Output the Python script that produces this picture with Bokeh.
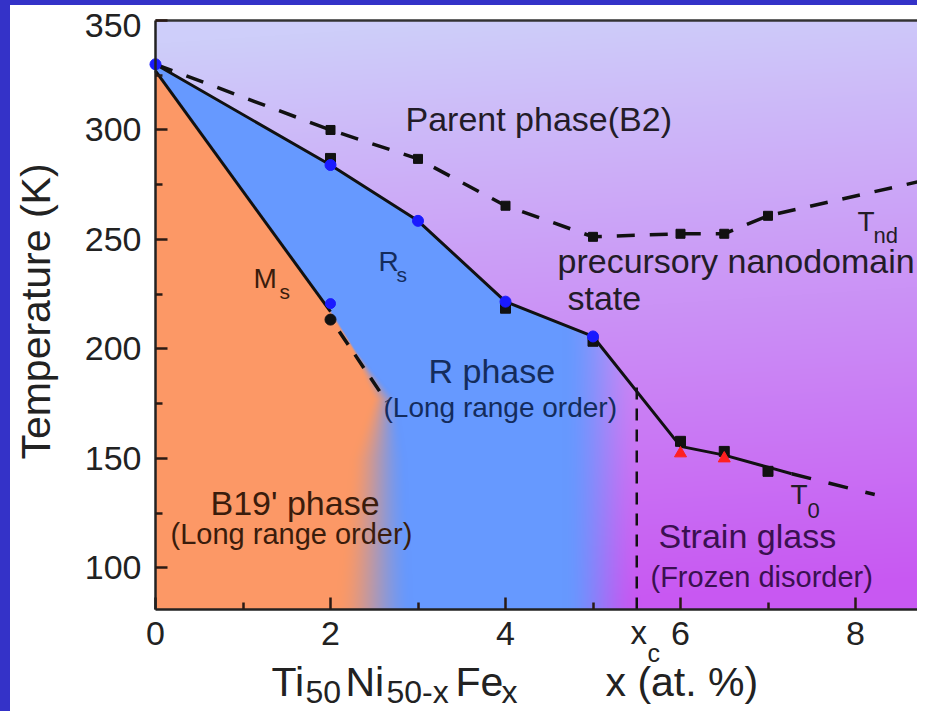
import numpy as np
from bokeh.plotting import figure
from bokeh.models import Label, LinearAxis, FixedTicker, Range1d, Spacer
from bokeh.layouts import column, row
from bokeh.embed import file_html
from bokeh.resources import INLINE

# ---------------- data ----------------
# T_nd : precursory nanodomain onset (black squares, dashed line)
tnd_x = [2, 3, 4, 5, 6, 6.5, 7]
tnd_y = [300.0, 286.8, 265.4, 251.2, 252.6, 252.6, 260.8]
tnd_line_x = [0, 2, 3, 4, 5, 6, 6.5, 7, 8.71]
tnd_line_y = [330.0, 300.0, 286.8, 265.4, 251.2, 252.6, 252.6, 260.8, 276.3]

# R_s : R-phase start (blue circles)
rs_x = [0, 2, 3, 4, 5]
rs_y = [330.0, 284.0, 258.5, 221.6, 205.7]
# black squares measured together with R_s
rs_sq_x = [2, 4, 5]
rs_sq_y = [287.0, 218.6, 203.5]

# T_0 : strain glass transition (black squares, red triangles)
t0_x = [6, 6.5, 7]
t0_y = [157.8, 153.2, 144.1]
t0_tri_x = [6, 6.5]
t0_tri_y = [152.3, 150.0]

# phase boundary B2 / R (solid) and its extrapolation (dashed)
rsb_x = [0, 2, 3, 4, 5, 6, 6.5, 7, 7.27]
rsb_y = [330.0, 284.0, 258.5, 221.6, 205.7, 155.5, 151.5, 146.0, 143.0]
rsb_ext_x = [7.27, 8.22]
rsb_ext_y = [143.0, 133.5]

# M_s : martensite start
ms_x = [2]
ms_y = [220.7]
ms_blk_x = [2]
ms_blk_y = [213.4]
msb_x = [0, 2]
msb_y = [327.0, 217.0]
msb_ext_x = [2.1, 2.64]
msb_ext_y = [208.0, 176.0]

# critical composition x_c
xc = 5.5
xc_y = [81.0, 183.0]

x_ticks = [0, 2, 4, 6, 8]
x_minor = [1, 3, 5, 7]
y_ticks = [100, 150, 200, 250, 300, 350]
y_minor = [125, 175, 225, 275, 325]

XMIN_D, XMAX_D = 0.0, 8.71      # extent of the plotting box (x, at. %)
YMIN_D, YMAX_D = 81.0, 350.0    # extent of the plotting box (K)

FONT = "Liberation Sans"
BORDER = "#3432c8"

# page geometry of the figure (pixels)
FIG_X0, FIG_Y0, FIG_W, FIG_H = 10, 5, 907, 706
BOX_L, BOX_T = 155, 20
PXU = 87.5          # px per x unit
PYU = 589 / (YMAX_D - YMIN_D)   # px per K

def px2x(px):
    return (px - BOX_L) / PXU

def py2y(py):
    return YMAX_D - (py - BOX_T) / PYU

p = figure(width=FIG_W, height=FIG_H,
           x_range=Range1d(px2x(FIG_X0), px2x(FIG_X0 + FIG_W)),
           y_range=Range1d(py2y(FIG_Y0 + FIG_H), py2y(FIG_Y0)),
           output_backend="svg", toolbar_location=None, min_border=0)
p.outline_line_color = None
p.background_fill_color = "white"
p.border_fill_color = "white"
p.xgrid.visible = False
p.ygrid.visible = False

# ---------------- background (phase regions) ----------------
nx, ny = 762, 589
xs = XMIN_D + (np.arange(nx) + 0.5) / nx * (XMAX_D - XMIN_D)
ts = YMIN_D + (np.arange(ny) + 0.5) / ny * (YMAX_D - YMIN_D)
X, T = np.meshgrid(xs, ts)

def ss(e0, e1, v):
    t = np.clip((v - e0) / (e1 - e0), 0, 1)
    return t * t * (3 - 2 * t)

top_c = np.array([206, 206, 250.0])
bot_c = np.array([200, 88, 242.0])
blue_c = np.array([102, 153, 255.0])
orange_c = np.array([252, 152, 102.0])

tt = np.clip((YMAX_D - T) / (YMAX_D - YMIN_D) + 0.04 * (X - 4) / 4, 0, 1)[..., None]
col = top_c * (1 - tt) + bot_c * tt

bx = rsb_x + rsb_ext_x[1:] + [XMAX_D + 0.1]
by = rsb_y + rsb_ext_y[1:] + [133.5 - (XMAX_D + 0.1 - 8.22) * 10]
below = T < np.interp(X, bx, by)
wb = (1 - ss(4.65, 5.55, X)) * below
col = col * (1 - wb[..., None]) + blue_c * wb[..., None]

xcen = np.interp(T, [80, 150, 177, 217, 327, 400], [2.5, 2.55, 2.62, 2.0, 0.0, -0.1])
wid = np.interp(T, [80, 150, 177, 200, 400], [0.9, 0.65, 0.3, 0.03, 0.02])
wo = (1 - ss(xcen - wid / 2, xcen + wid / 2, X)) * below
col = col * (1 - wo[..., None]) + orange_c * wo[..., None]

img = np.empty((ny, nx), dtype=np.uint32)
view = img.view(dtype=np.uint8).reshape((ny, nx, 4))
for k in range(3):
    view[..., k] = np.clip(col[..., k], 0, 255).astype(np.uint8)
view[..., 3] = 255
p.image_rgba(image=[img], x=XMIN_D, y=YMIN_D, dw=XMAX_D - XMIN_D, dh=YMAX_D - YMIN_D)

# ---------------- lines ----------------
p.line(tnd_line_x, tnd_line_y, line_color="#111111", line_width=3.5, line_dash="18 15")
p.line(rsb_x, rsb_y, line_color="#111111", line_width=3)
p.line(rsb_ext_x, rsb_ext_y, line_color="#111111", line_width=3.5, line_dash="20 18")
p.line(msb_x, msb_y, line_color="#111111", line_width=3)
p.line(msb_ext_x, msb_ext_y, line_color="#111111", line_width=3.5, line_dash="16 12")
p.line([xc, xc], xc_y, line_color="#111111", line_width=2.5, line_dash="12 9")

# ---------------- markers ----------------
p.scatter(tnd_x, tnd_y, marker="square", size=9, color="#111111")
p.scatter(rs_sq_x, rs_sq_y, marker="square", size=10, color="#111111")
p.scatter(t0_x, t0_y, marker="square", size=10, color="#111111")
p.scatter(ms_blk_x, ms_blk_y, marker="circle", size=11, color="#111111")
p.scatter(rs_x, rs_y, marker="circle", size=11, color="#1a1aff")
p.scatter(ms_x, ms_y, marker="circle", size=10, color="#1a1aff")
p.scatter(t0_tri_x, t0_tri_y, marker="triangle", size=12, color="#ff2020")

# ---------------- axes (pinned to the plotting box) ----------------
xa, ya = p.xaxis[0], p.yaxis[0]
xa.fixed_location = YMIN_D
xa.bounds = (XMIN_D, XMAX_D)
ya.fixed_location = XMIN_D
ya.bounds = (YMIN_D, YMAX_D)
for ax in (xa, ya):
    ax.axis_line_width = 2.5
    ax.axis_line_color = "#222222"
    ax.major_tick_in = 12
    ax.major_tick_out = 0
    ax.minor_tick_in = 7
    ax.minor_tick_out = 0
    ax.major_tick_line_width = 2.5
    ax.minor_tick_line_width = 2.5
    ax.major_tick_line_color = "#2a1a14"
    ax.minor_tick_line_color = "#2a1a14"
    ax.major_label_text_font = FONT
    ax.major_label_text_font_size = "34px"
    ax.major_label_text_color = "#222222"
xa.ticker = FixedTicker(ticks=x_ticks, minor_ticks=x_minor)
ya.ticker = FixedTicker(ticks=y_ticks, minor_ticks=y_minor)
# the top label is drawn a little lower (as in the original) by a Label below
ya.major_label_overrides = {y_ticks[-1]: ""}
xa.major_label_standoff = 12
ya.major_label_standoff = 14

top_axis = LinearAxis(ticker=FixedTicker(ticks=[]), major_label_text_font_size="0px",
                      fixed_location=YMAX_D, bounds=(XMIN_D, XMAX_D),
                      axis_line_width=2.5, axis_line_color="#333333",
                      major_tick_line_color=None, minor_tick_line_color=None)
p.add_layout(top_axis, "above")

# ---------------- labels ----------------
SHIFT = 0.38  # compensates the renderer's baseline placement (fraction of font size)

def lab(text, px, py, size, color, align="left", angle=0.0):
    if angle:
        px = px - SHIFT * size
    else:
        py = py - SHIFT * size
    p.add_layout(Label(x=px2x(px), y=py2y(py), text=text, text_font=FONT,
                       text_font_size=f"{size}px", text_color=color,
                       text_align=align, text_baseline="alphabetic", angle=angle))

dark = "#231c28"
navy = "#142c5c"
brown = "#3a1c0c"
purp = "#3a1050"
axc = "#222222"

lab("Parent phase(B2)", 405, 131, 34, dark)
lab("precursory nanodomain", 557, 273, 34, dark)
lab("state", 567, 310, 34, dark)
lab("T", 857, 232, 28, dark)
lab("nd", 873, 243, 22, dark)
lab("R", 378, 272, 28, navy)
lab("s", 396, 282, 21, navy)
lab("M", 253, 289, 28, brown)
lab("s", 279, 299, 21, brown)
lab("R phase", 428, 383, 34, navy)
lab("(Long range  order)", 383, 418, 28, navy)
lab("B19' phase", 210, 515, 34, brown)
lab("(Long range order)", 170, 545, 29, brown)
lab("Strain glass", 658, 548, 34, purp)
lab("(Frozen disorder)", 650, 588, 29, purp)
lab("T", 790, 505, 28, dark)
lab("0", 807, 518, 22, dark)

# top y tick label
lab(str(y_ticks[-1]), 141, 38, 34, axc, align="right")

# x_c marker under the axis
lab("x", 630, 645, 33, axc)
lab("c", 647, 662, 25, axc)

# axis titles
lab("Temperature (K)", 51, 311, 41, axc, align="center", angle=np.pi / 2)
lab("Ti", 271, 697, 41, axc)
lab("50", 305, 703.5, 32, axc)
lab("Ni", 345, 697, 41, axc)
lab("50-x", 386, 703.5, 32, axc)
lab("Fe", 455, 697, 41, axc)
lab("x", 501, 703.5, 32, axc)
lab("x (at. %)", 605, 697, 41, axc)

top_band = Spacer(width=FIG_X0 + FIG_W, height=FIG_Y0, styles={"background-color": BORDER})
left_band = Spacer(width=FIG_X0, height=FIG_H, styles={"background-color": BORDER})
layout = column(top_band, row(left_band, p))

open("out.html", "w").write(file_html(layout, INLINE))
